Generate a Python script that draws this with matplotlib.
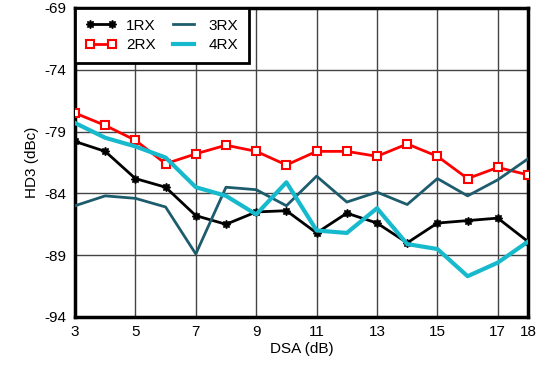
import matplotlib
matplotlib.use("Agg")
import matplotlib.pyplot as plt

plt.rcParams["font.family"] = ["Liberation Sans", "DejaVu Sans"]
plt.rcParams["axes.unicode_minus"] = False

dsa = [3, 4, 5, 6, 7, 8, 9, 10, 11, 12, 13, 14, 15, 16, 17, 18]
rx1 = [-79.8, -80.6, -82.8, -83.5, -85.8, -86.5, -85.5, -85.4, -87.2, -85.6,
       -86.4, -88.0, -86.4, -86.2, -86.0, -87.9]
rx2 = [-77.5, -78.5, -79.7, -81.6, -80.8, -80.1, -80.6, -81.7, -80.6, -80.6,
       -81.0, -80.0, -81.0, -82.8, -81.9, -82.5]
rx3 = [-85.0, -84.2, -84.4, -85.1, -88.9, -83.5, -83.7, -85.0, -82.6, -84.7,
       -83.9, -84.9, -82.8, -84.2, -82.9, -81.2]
rx4 = [-78.3, -79.5, -80.2, -81.1, -83.5, -84.2, -85.7, -83.1, -87.0, -87.2,
       -85.2, -88.1, -88.5, -90.7, -89.6, -87.9]
xticks = [3, 5, 7, 9, 11, 13, 15, 17, 18]
yticks = [-94, -89, -84, -79, -74, -69]

fig = plt.figure(figsize=(5.41, 3.68), dpi=100)
ax = fig.add_axes([75 / 541, 1 - 317 / 368, 453 / 541, 309 / 368])

ax.plot(dsa, rx1, color="black", lw=2, marker=(8, 1, 0), ms=6, label="1RX", zorder=3)
ax.plot(dsa, rx2, color="#ff0000", lw=2, marker="s", ms=6, mfc="white",
        mew=1.5, label="2RX", zorder=3)
ax.plot(dsa, rx3, color="#1d5c6c", lw=2, label="3RX", zorder=3)
ax.plot(dsa, rx4, color="#17b9cc", lw=3, label="4RX", zorder=3)

ax.set_xlim(3, 18)
ax.set_ylim(-94, -69)
ax.set_xticks(xticks)
ax.set_yticks(yticks)
ax.grid(True, color="#444444", lw=1)
ax.tick_params(length=0, labelsize=11, pad=6)
for s in ax.spines.values():
    s.set_linewidth(2.5)
ax.set_xlabel("DSA (dB)", fontsize=11, labelpad=2)
ax.set_ylabel("HD3 (dBc)", fontsize=11, labelpad=4)

leg = ax.legend(ncol=2, loc="upper left", fontsize=11, fancybox=False,
                framealpha=1, edgecolor="black", borderaxespad=0,
                numpoints=2, handlelength=2.0, handletextpad=0.65,
                columnspacing=0.8, labelspacing=0.35, borderpad=0.7)
leg.get_frame().set_linewidth(2)

fig.savefig("out.png", dpi=100)
